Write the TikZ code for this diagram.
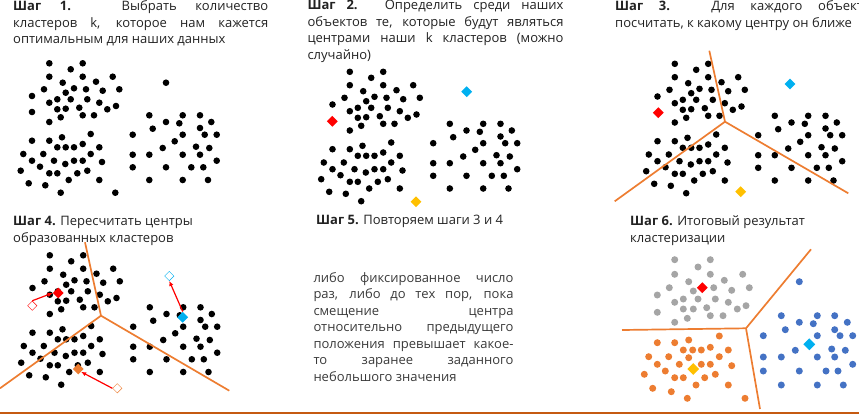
\documentclass[tikz,border=0pt]{standalone}
\usepackage{fontspec}
\setmainfont{Open Sans}
\usepackage{xcolor}
\usepackage{tikz}
\usetikzlibrary{shapes.geometric, arrows.meta}
\definecolor{Ink}{HTML}{222222}
\definecolor{BodyGray}{HTML}{3A3A3A}
\definecolor{Split}{HTML}{ED7D31}
\definecolor{CRed}{HTML}{FF0000}
\definecolor{CCyan}{HTML}{00B0F0}
\definecolor{CGold}{HTML}{FFC000}
\definecolor{COrange}{HTML}{ED7D31}
\definecolor{CGray}{HTML}{A5A5A5}
\definecolor{CBlue}{HTML}{4472C4}
\definecolor{RuleBrown}{HTML}{C55A11}
\tolerance=10000
\hbadness=10000

\newcommand{\basepts}{49.3/63.3, 82.7/63.3, 70.7/69.3, 49.3/76.7, 82.7/76.7, 112.7/76.7, 62.7/82.7, 96/81.7, 44/89.3, 74/88.3, 86/89.3, 102.7/90.7, 119.3/89.3, 65.7/92.7, 32/96, 57.3/99.3, 70.7/99.3, 87.3/99.3, 49.3/102.7, 99.3/102.7, 57.3/109.3, 65.7/108.7, 79.3/107.7, 107.3/109.3, 116/106, 60.7/117.3, 82.7/115.3, 94/115.3, 49.3/122,
62/137.3, 90.7/134, 32/140.7, 49.3/140.7, 57.3/147.3, 65.7/147.3, 74/147.3, 82.7/144, 99.3/147.3, 23.3/154, 43.3/154, 90.7/154, 32/160.7, 54/160.7, 74/160.7, 82.7/160.7, 65.3/164, 102/162, 40/166.7, 20.7/170.7, 49.3/173.3, 57.3/173.3, 77.3/173.3, 87.3/170.7, 68.7/180, 99.3/180, 28.7/183.3, 45.3/185.3, 60.7/192.7,
149.3/115.3, 182.7/115.3, 200/115.3, 166/122, 179.3/123.3, 211.3/122, 152.7/128.7, 200/128, 132.7/134.7, 182.7/134.7, 204.7/134.7, 216.7/134.7, 174.7/141.3, 162.7/148, 196/146.7, 209.3/148, 132.7/154.7, 149.3/154.7, 182.7/154.7, 200/154.7, 216.7/160.7, 132.7/167.3, 166/167.3, 191.3/167.3, 203.3/167.3, 149.3/180, 182.7/180, 208/180}
\newcommand{\centerpts}{32/112, 166/82.7, 115.3/192.7}
\newcommand{\graypts}{674.7/259.7, 710.3/259.7, 698/267, 674.7/274.3, 710.3/274.3, 688.7/281.7, 724.3/280.3, 742.7/274.3, 669.3/287.7, 693.3/291, 713.7/287.7, 731.7/290.3, 749.3/287.7, 657.3/295, 698/299, 683.3/299, 715.3/299, 674.7/302.3, 728.3/302.3, 746/305.7, 683.3/309, 693.3/309, 706.7/307.7, 737.3/309, 657.3/312.3, 687.3/318.3, 710.3/315.7, 723/315.7, 674.7/322.3}
\newcommand{\orangepts}{719.3/336, 657.3/342.7, 674.7/342.7, 688.7/340, 683.3/350, 692.7/350, 701.3/350, 710.3/347.3, 728.3/350, 648.7/356.7, 668.7/356.7, 688.7/357.7, 719.3/356.7, 657.3/364.3, 679.3/364.3, 701.3/364.3, 710.3/364.3, 731.7/365.7, 665.3/371, 644.3/374.3, 674.7/377.7, 683.3/377.7, 704.7/377.7, 715.3/374.3, 696/385, 728.3/385, 652.7/388.3, 671.3/391.7, 687.3/398.3, 745/398.3}
\newcommand{\bluepts}{799.3/281.7, 781.3/315.7, 817.3/315.7, 834.7/315.7, 799.3/322.3, 813.3/323.7, 847.3/322.3, 785.3/329.7, 834.7/329.7, 763.3/335.7, 817.3/335.7, 840/335.7, 852.7/335.7, 795.3/350.3, 831.7/349, 845.3/350.3, 763.3/357, 781.3/357, 817.3/357, 834.7/357, 852.7/364.3, 763.3/371, 799.3/371, 826/371, 838/371, 781.3/385, 817.3/385, 843.3/385}

\begin{document}
\begin{tikzpicture}[
  x=1pt, y=-1pt,
  caption/.style={anchor=north west, inner sep=0pt, text width=#1, align=justify, text=Ink, font=\fontsize{13}{16.5}\selectfont},
  plain/.style={anchor=north west, inner sep=0pt, align=left, text=Ink, font=\fontsize{13}{16.5}\selectfont},
  center/.style={diamond, aspect=1, inner sep=0pt, minimum size=11pt, fill=#1},
  oldcenter/.style={diamond, aspect=1, inner sep=0pt, minimum size=9.5pt, draw=#1, thin, fill=white},
  border/.style={draw=Split, line width=1.7pt},
  move/.style={-{Latex[length=5pt, width=4.5pt]}, draw=CRed, line width=1.2pt}
]
\useasboundingbox (0,0) rectangle (859,415);
\clip (0,0) rectangle (859,415);

\node[caption=255pt] (t1) at (13,-1.2) {\strut\textbf{Шаг 1.} Выбрать количество\linebreak кластеров k, которое нам кажется\linebreak оптимальным для наших данных};
\foreach \x/\y in \basepts \fill (\x,\y) circle[radius=3.3];
\foreach \x/\y in \centerpts \fill (\x,\y) circle[radius=3.3];

\node[caption=256pt] (t2) at (307.3,-2) {\strut\textbf{Шаг 2.} Определить среди наших\linebreak объектов те, которые будут являться\linebreak центрами наши k кластеров (можно\linebreak случайно)};
\begin{scope}[shift={(300.5,8.5)}]
\foreach \x/\y in \basepts \fill (\x,\y) circle[radius=3.3];
\end{scope}
\node[center=CRed] (r2) at (332.3,121.3) {};
\node[center=CCyan] (b2) at (466.7,91.7) {};
\node[center=CGold] (y2) at (416,201.7) {};

\node[caption=255pt] (t3) at (615,-1.2) {\strut\textbf{Шаг 3.} Для каждого объекта\linebreak посчитать, к какому центру он ближе};
\begin{scope}[shift={(625.5,0.5)}]
\foreach \x/\y in \basepts \fill (\x,\y) circle[radius=3.3];
\end{scope}
\node[center=CRed] (r3) at (658.3,112.7) {};
\node[center=CCyan] (b3) at (790,84) {};
\node[center=CGold] (y3) at (740.7,191.7) {};
\coordinate (j3) at (725,121.7);
\draw[border] (709.3,50.7) -- (j3) -- (614.7,201.3);
\draw[border] (j3) -- (848.3,193.3);

\node[plain] (t4) at (13,213.8) {\strut\textbf{Шаг 4.} Пересчитать центры\\образованных кластеров};
\begin{scope}[shift={(0.5,192)}]
\foreach \x/\y in \basepts \fill (\x,\y) circle[radius=3.3];
\end{scope}
\coordinate (j4) at (101,315.7);
\draw[border] (85,242.3) -- (j4) -- (0,388.3);
\draw[border] (j4) -- (229.3,390.7);
\node[oldcenter=CRed] (r4old) at (32.3,305.7) {};
\node[oldcenter=CCyan] (b4old) at (169.3,276) {};
\node[oldcenter=COrange] (o4old) at (117.3,388.3) {};
\node[center=CRed] (r4) at (58.3,293) {};
\node[center=CCyan] (b4) at (182.7,317.3) {};
\node[center=COrange] (o4) at (78.3,369) {};
\draw[move] (r4old.north) -- (r4.west);
\draw[move] (b4.north) -- (b4old.south);
\draw[move] (o4old.west) -- (o4.south east);

\node[plain] (t5) at (316,213) {\strut\textbf{Шаг 5.} Повторяем шаги 3 и 4};
\node[caption=200pt, text=BodyGray] (t5b) at (313.3,270.4) {\strut либо фиксированное число\linebreak раз, либо до тех пор, пока\linebreak смещение центра\linebreak относительно предыдущего\linebreak положения превышает какое-\linebreak то заранее заданного\linebreak небольшого значения};

\node[plain] (t6) at (630,213.8) {\strut\textbf{Шаг 6.} Итоговый результат\\кластеризации};
\foreach \x/\y in \graypts \fill[CGray] (\x,\y) circle[radius=3.5];
\foreach \x/\y in \orangepts \fill[COrange] (\x,\y) circle[radius=3.5];
\foreach \x/\y in \bluepts \fill[CBlue] (\x,\y) circle[radius=3.5];
\coordinate (j6) at (746,328.3);
\draw[border] (622,330) -- (j6) -- (811,249.3);
\draw[border] (j6) -- (760,409);
\node[center=CRed] (r6) at (702.3,287.7) {};
\node[center=CCyan, minimum size=12pt] (b6) at (809.3,344.3) {};
\node[center=CGold, minimum size=12pt] (y6) at (693.3,369) {};

\draw[RuleBrown, line width=2pt] (0,413.3) -- (859,413.3);
\end{tikzpicture}
\end{document}
